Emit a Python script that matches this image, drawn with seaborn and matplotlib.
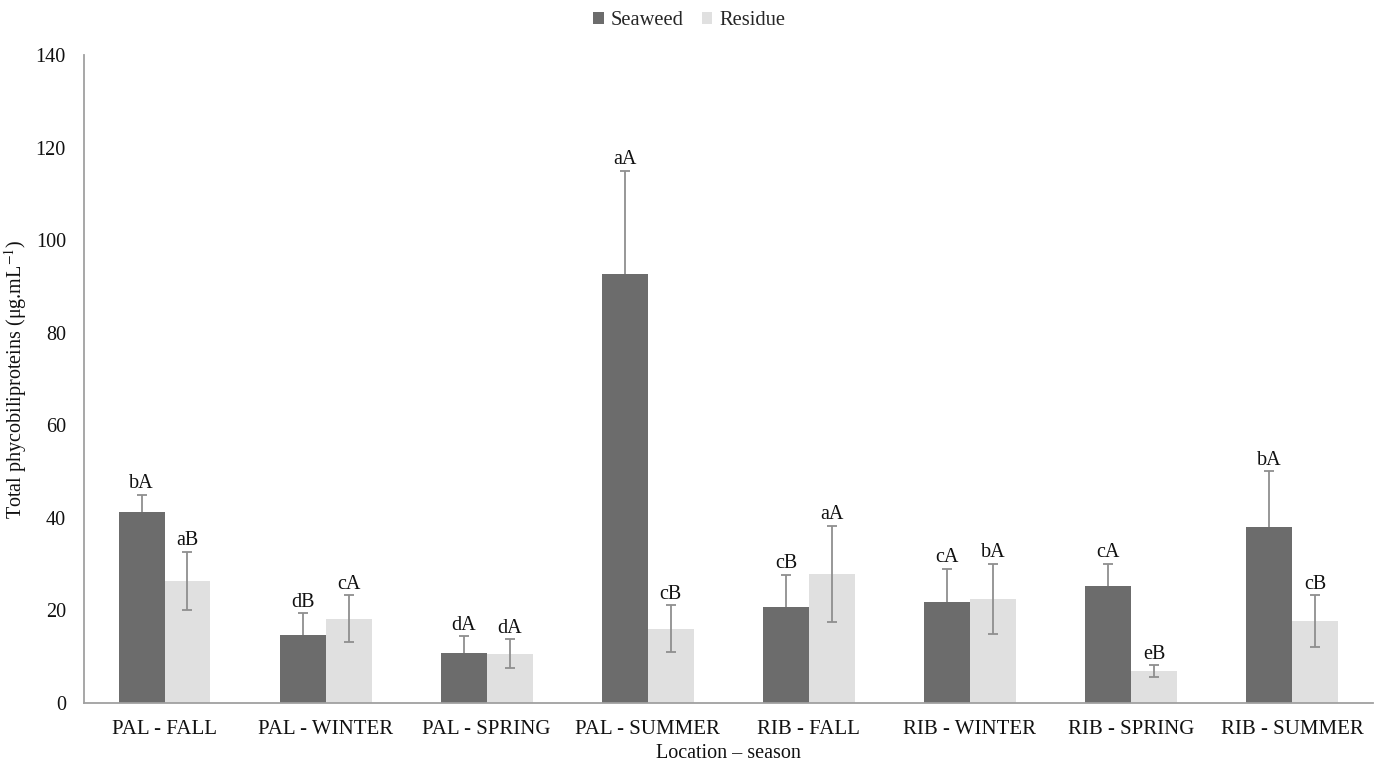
import matplotlib
matplotlib.use("Agg")
import matplotlib.pyplot as plt
import seaborn as sns
import pandas as pd
import numpy as np

categories = ["PAL - FALL", "PAL - WINTER", "PAL - SPRING", "PAL - SUMMER",
              "RIB - FALL", "RIB - WINTER", "RIB - SPRING", "RIB - SUMMER"]
seaweed = [41.3, 14.7, 10.9, 92.6, 20.7, 21.9, 25.2, 38.0]
seaweed_err = [3.7, 4.7, 3.5, 22.4, 7.0, 7.1, 4.9, 12.1]
residue = [26.4, 18.2, 10.7, 16.1, 27.9, 22.5, 6.9, 17.7]
residue_err = [6.3, 5.1, 3.1, 5.1, 10.4, 7.6, 1.3, 5.6]
seaweed_letters = ["bA", "dB", "dA", "aA", "cB", "cA", "cA", "bA"]
residue_letters = ["aB", "cA", "dA", "cB", "aA", "bA", "eB", "cB"]
series = ["Seaweed", "Residue"]

sns.set_theme(style="white")
plt.rcParams["font.family"] = ["Liberation Serif", "DejaVu Serif"]
plt.rcParams["mathtext.fontset"] = "stix"

df = pd.DataFrame({
    "category": categories * 2,
    "value": seaweed + residue,
    "series": [series[0]] * len(categories) + [series[1]] * len(categories),
})

fig = plt.figure(figsize=(13.79, 7.63), dpi=100)
ax = fig.add_axes([0.0609, 0.0786, 0.9345, 0.8493])

palette = {"Seaweed": "#6c6c6c", "Residue": "#e0e0e0"}
sns.barplot(data=df, x="category", y="value", hue="series", order=categories,
            hue_order=series, palette=palette, width=0.57, errorbar=None,
            saturation=1, linewidth=0, ax=ax, legend=True, zorder=2)

# Error bars and significance letters on top of each bar
n = len(categories)
patches = list(ax.patches)[:2 * n]
xs_s = [p.get_x() + p.get_width() / 2 for p in patches[:n]]
xs_r = [p.get_x() + p.get_width() / 2 for p in patches[n:2 * n]]

err_kw = dict(fmt="none", ecolor="#8f8f8f", elinewidth=1.3, capsize=3.5,
              capthick=1.3)
# seaweed whiskers sit behind the dark bars, so only the upper half shows
ax.errorbar(xs_s, seaweed, yerr=seaweed_err, zorder=1.5, **err_kw)
ax.errorbar(xs_r, residue, yerr=residue_err, zorder=3, **err_kw)

for x, v, e, t in zip(xs_s, seaweed, seaweed_err, seaweed_letters):
    ax.annotate(t, (x, v + e), xytext=(0, 1), textcoords="offset points",
                ha="center", va="bottom", fontsize=14.5, color="#111111")
for x, v, e, t in zip(xs_r, residue, residue_err, residue_letters):
    ax.annotate(t, (x, v + e), xytext=(0, 1), textcoords="offset points",
                ha="center", va="bottom", fontsize=14.5, color="#111111")

ax.set_xlim(-0.5, n - 0.5)
ax.set_ylim(0, 140)
ax.set_yticks(np.arange(0, 141, 20))
ax.tick_params(axis="both", length=0, colors="#111111")
ax.tick_params(axis="y", pad=13, labelsize=14.5)
ax.tick_params(axis="x", pad=12, labelsize=15)

for side in ["top", "right"]:
    ax.spines[side].set_visible(False)
for side in ["left", "bottom"]:
    ax.spines[side].set_color("#a0a0a0")
    ax.spines[side].set_linewidth(1.3)

ax.set_xlabel("Location \u2013 season", fontsize=14.5, color="#111111", labelpad=4)
ax.set_ylabel(r"Total phycobiliproteins (μg.mL$^{-1}$)", fontsize=14.5,
              color="#111111")
ax.yaxis.set_label_coords(-0.0427, 0.5)

handles, labels = ax.get_legend_handles_labels()
ax.get_legend().remove()
fig.legend(handles, labels, loc="center", bbox_to_anchor=(0.5, 0.973), ncol=2,
           frameon=False, fontsize=14.8, handlelength=0.5, handleheight=0.5,
           handletextpad=0.35, columnspacing=0.9)

fig.savefig("out.png", dpi=100)
